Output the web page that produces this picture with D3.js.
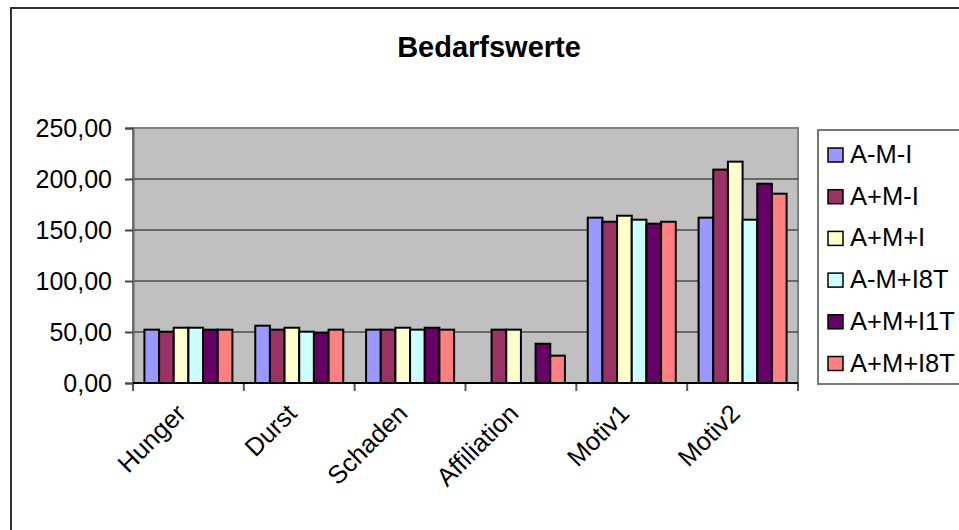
<!DOCTYPE html>
<html>
<head>
<meta charset="utf-8">
<script src="https://cdn.jsdelivr.net/npm/d3@7"></script>
<style>
  html, body { margin: 0; padding: 0; background: #fff; }
  svg { display: block; font-family: "Liberation Sans", Arial, sans-serif; }
</style>
</head>
<body>
<div id="chart"></div>
<script>
// categories and series
const categories = ['Hunger', 'Durst', 'Schaden', 'Affiliation', 'Motiv1', 'Motiv2'];
const seriesNames = ['A-M-I', 'A+M-I', 'A+M+I', 'A-M+I8T', 'A+M+I1T', 'A+M+I8T'];
const seriesColors = ['#9999FF', '#993366', '#FFFFCC', '#CCFFFF', '#660066', '#FF8080'];

// one array per series, in category order (0 = no bar)
const amiValues = [52.3, 56.2, 52.3, 0, 162.1, 162.1];
const apmiValues = [50.3, 52.3, 52.3, 52.3, 158.1, 209.2];
const apmpiValues = [54.2, 54.2, 54.2, 52.3, 164.0, 217.0];
const amPi8tValues = [54.2, 50.3, 52.3, 0, 160.1, 160.1];
const apmPi1tValues = [52.3, 49.0, 54.2, 38.5, 156.2, 195.4];
const apmPi8tValues = [52.3, 52.3, 52.3, 26.8, 158.1, 185.6];
const seriesValues = [amiValues, apmiValues, apmpiValues, amPi8tValues, apmPi1tValues, apmPi8tValues];

const yTicks = [0, 50, 100, 150, 200, 250];

const width = 959, height = 530;
const plot = { left: 133, right: 798, top: 128, bottom: 383 };

const svg = d3.select('#chart').append('svg')
  .attr('width', width)
  .attr('height', height);

// outer chart border (runs off the right/bottom edge)
svg.append('rect')
  .attr('x', 11).attr('y', 8)
  .attr('width', 1000).attr('height', 600)
  .attr('fill', '#fff')
  .attr('stroke', '#333')
  .attr('stroke-width', 2);

// title
svg.append('text')
  .attr('x', 489).attr('y', 57)
  .attr('text-anchor', 'middle')
  .attr('font-size', 29)
  .attr('font-weight', 'bold')
  .text('Bedarfswerte');

let y = d3.scaleLinear()
  .domain([0, 250])
  .range([plot.bottom, plot.top]);

let x0 = d3.scaleBand()
  .domain(categories)
  .range([plot.left, plot.right])
  .paddingInner(0.206)
  .paddingOuter(0.103);

let x1 = d3.scaleBand()
  .domain(seriesNames)
  .range([0, x0.bandwidth()]);

// plot area
svg.append('rect')
  .attr('x', plot.left).attr('y', plot.top)
  .attr('width', plot.right - plot.left)
  .attr('height', plot.bottom - plot.top)
  .attr('fill', '#C0C0C0')
  .attr('stroke', '#808080')
  .attr('stroke-width', 2);

// gridlines
svg.append('g')
  .selectAll('line')
  .data(yTicks.filter(d => d > 0 && d < 250))
  .enter().append('line')
  .attr('x1', plot.left).attr('x2', plot.right)
  .attr('y1', d => y(d)).attr('y2', d => y(d))
  .attr('stroke', '#111')
  .attr('stroke-width', 1);

// y axis
const fmt = d => d3.format('.2f')(d).replace('.', ',');
let yAxis = d3.axisLeft(y)
  .tickValues(yTicks)
  .tickSize(8)
  .tickPadding(13)
  .tickFormat(fmt);

svg.append('g')
  .attr('transform', `translate(${plot.left},0)`)
  .call(yAxis)
  .call(g => g.select('.domain').attr('stroke', '#666').attr('stroke-width', 2))
  .call(g => g.selectAll('.tick line').attr('stroke', '#444').attr('stroke-width', 2))
  .call(g => g.selectAll('.tick text')
    .attr('font-size', 25)
    .attr('font-family', '"Liberation Sans", Arial, sans-serif')
    .attr('fill', '#000')
    .attr('dy', '0.32em'));

// x axis ticks at category boundaries
const boundaries = d3.range(categories.length + 1).map(i => plot.left + i * x0.step());
svg.append('g')
  .selectAll('line')
  .data(boundaries)
  .enter().append('line')
  .attr('x1', d => d).attr('x2', d => d)
  .attr('y1', plot.bottom).attr('y2', plot.bottom + 8)
  .attr('stroke', '#555')
  .attr('stroke-width', 2);

// bars
const groups = svg.append('g')
  .selectAll('g')
  .data(categories)
  .enter().append('g')
  .attr('transform', d => `translate(${x0(d)},0)`);

groups.selectAll('rect')
  .data((c, ci) => seriesNames.map((s, si) => ({ s, si, v: seriesValues[si][ci] })).filter(d => d.v > 0))
  .enter().append('rect')
  .attr('x', d => x1(d.s))
  .attr('y', d => y(d.v))
  .attr('width', x1.bandwidth())
  .attr('height', d => y(0) - y(d.v))
  .attr('fill', d => seriesColors[d.si])
  .attr('stroke', '#000')
  .attr('stroke-width', 2);

// bottom axis line
svg.append('line')
  .attr('x1', plot.left).attr('x2', plot.right)
  .attr('y1', plot.bottom).attr('y2', plot.bottom)
  .attr('stroke', '#000')
  .attr('stroke-width', 2);

// category labels, rotated
svg.append('g')
  .selectAll('text')
  .data(categories)
  .enter().append('text')
  .attr('transform', d => `translate(${x0(d) + x0.bandwidth() / 2 - 1},415) rotate(-45)`)
  .attr('text-anchor', 'end')
  .attr('font-size', 25.5)
  .text(d => d);

// legend
const legend = svg.append('g').attr('transform', 'translate(818,130)');
legend.append('rect')
  .attr('width', 200).attr('height', 254)
  .attr('fill', '#fff')
  .attr('stroke', '#777')
  .attr('stroke-width', 2);

const items = legend.selectAll('g.item')
  .data(seriesNames)
  .enter().append('g')
  .attr('class', 'item')
  .attr('transform', (d, i) => `translate(0,${25 + i * 41.7})`);

items.append('rect')
  .attr('x', 10).attr('y', -7)
  .attr('width', 15).attr('height', 14)
  .attr('fill', (d, i) => seriesColors[i])
  .attr('stroke', '#000')
  .attr('stroke-width', 1.5);

items.append('text')
  .attr('x', 32).attr('y', 8)
  .attr('font-size', 25.5)
  .text(d => d);
</script>
</body>
</html>
